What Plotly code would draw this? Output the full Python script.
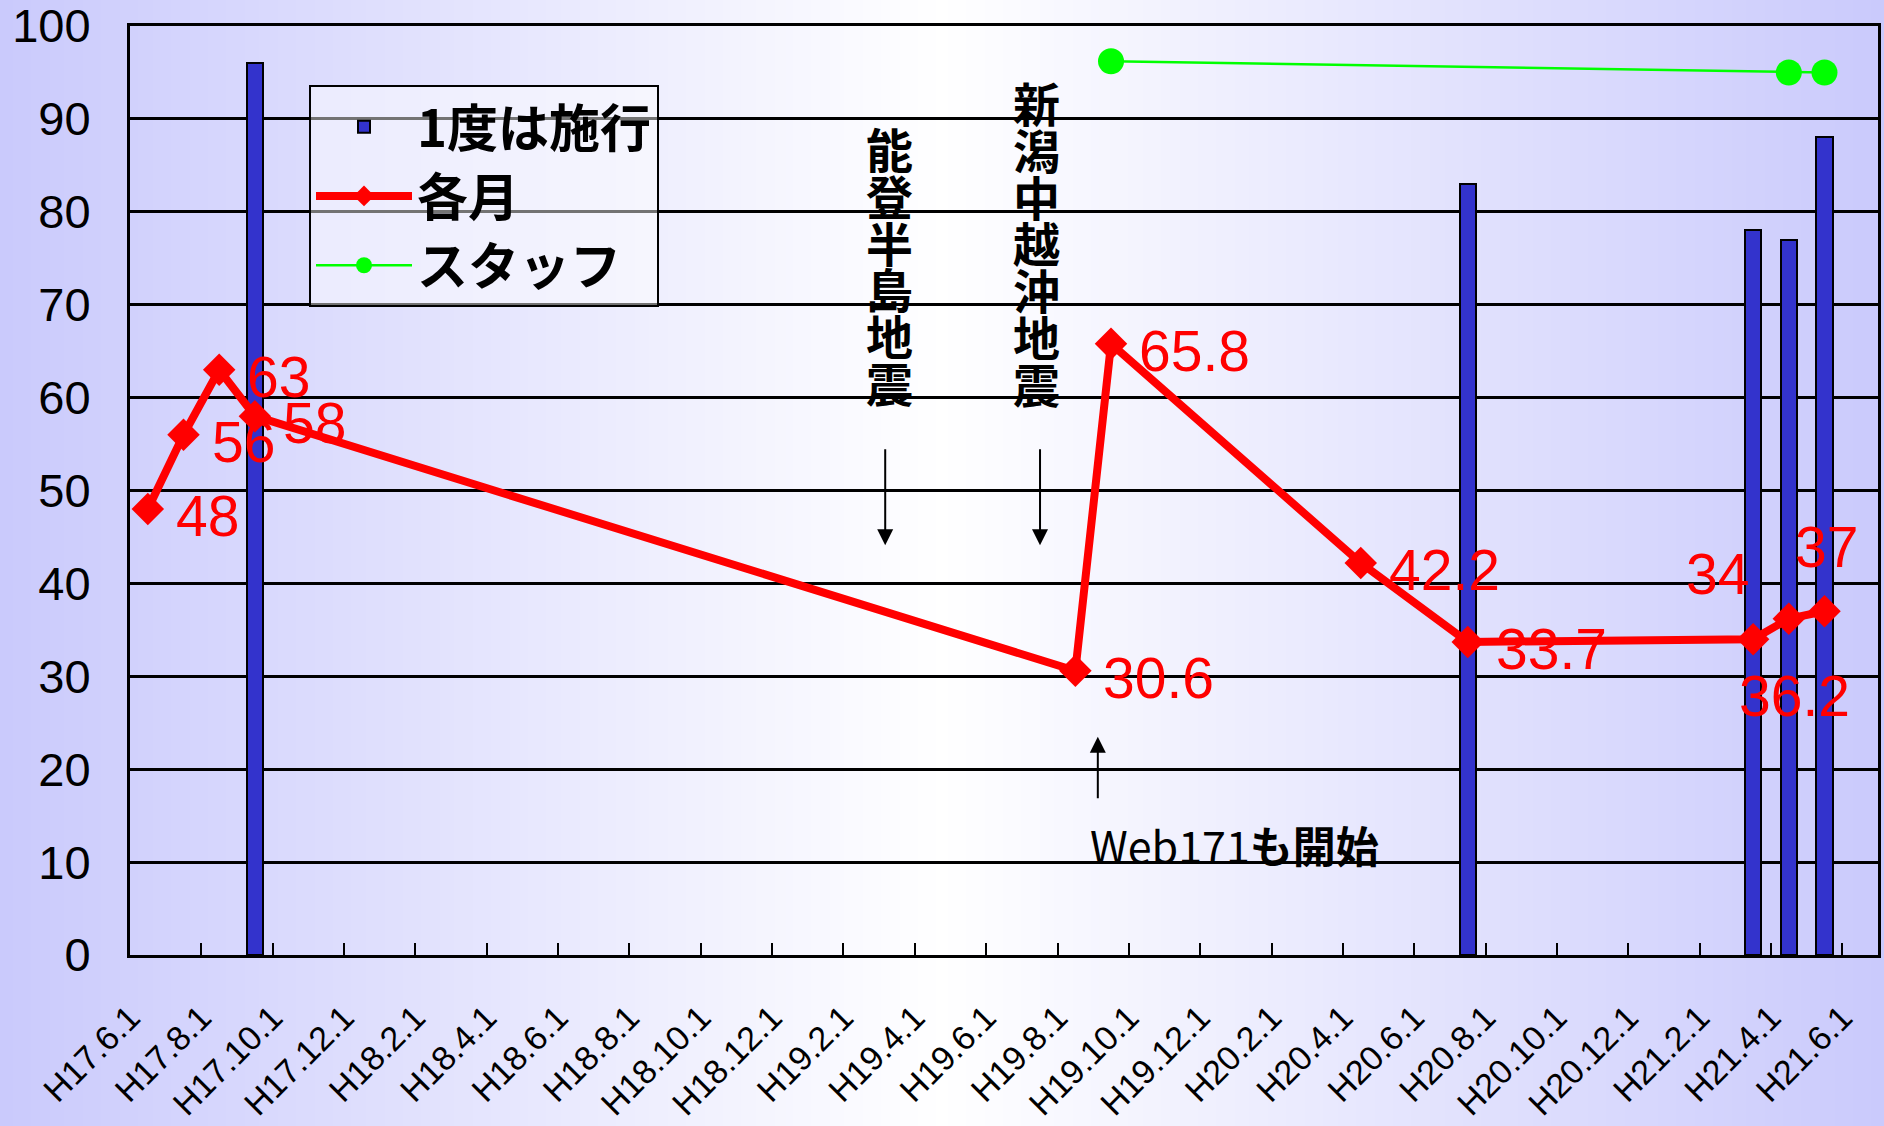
import base64
import struct
import zlib

import plotly.graph_objects as go

# ---------------- data ----------------
months = [
    "H17.6.1", "H17.7.1", "H17.8.1", "H17.9.1", "H17.10.1", "H17.11.1", "H17.12.1",
    "H18.1.1", "H18.2.1", "H18.3.1", "H18.4.1", "H18.5.1", "H18.6.1",
    "H18.7.1", "H18.8.1", "H18.9.1", "H18.10.1", "H18.11.1", "H18.12.1",
    "H19.1.1", "H19.2.1", "H19.3.1", "H19.4.1", "H19.5.1", "H19.6.1",
    "H19.7.1", "H19.8.1", "H19.9.1", "H19.10.1", "H19.11.1", "H19.12.1",
    "H20.1.1", "H20.2.1", "H20.3.1", "H20.4.1", "H20.5.1", "H20.6.1",
    "H20.7.1", "H20.8.1", "H20.9.1", "H20.10.1", "H20.11.1", "H20.12.1",
    "H21.1.1", "H21.2.1", "H21.3.1", "H21.4.1", "H21.5.1", "H21.6.1",
]
tick_labels = [
    "H17.6.1", "H17.8.1", "H17.10.1", "H17.12.1", "H18.2.1", "H18.4.1", "H18.6.1",
    "H18.8.1", "H18.10.1", "H18.12.1", "H19.2.1", "H19.4.1", "H19.6.1", "H19.8.1",
    "H19.10.1", "H19.12.1", "H20.2.1", "H20.4.1", "H20.6.1", "H20.8.1", "H20.10.1",
    "H20.12.1", "H21.2.1", "H21.4.1", "H21.6.1",
]
y_ticks = [0, 10, 20, 30, 40, 50, 60, 70, 80, 90, 100]

bar_name = "1度は施行"
bar_months = ["H17.9.1", "H20.7.1", "H21.3.1", "H21.4.1", "H21.5.1"]
bar_values = [96, 83, 78, 77, 88]

monthly_name = "各月"
monthly_months = ["H17.6.1", "H17.7.1", "H17.8.1", "H17.9.1", "H19.8.1", "H19.9.1",
                  "H20.4.1", "H20.7.1", "H21.3.1", "H21.4.1", "H21.5.1"]
monthly_values = [48, 56, 63, 58, 30.6, 65.8, 42.2, 33.7, 34, 36.2, 37]

staff_name = "スタッフ"
staff_months = ["H19.9.1", "H21.4.1", "H21.5.1"]
staff_values = [96.2, 95.0, 95.0]

quake_texts = ["能登半島地震", "新潟中越沖地震"]
web_text = "Web171<b>も開始</b>"

# ---------------- styles ----------------
W, H = 1884, 1126
ML, MR, MT, MB = 130, 6, 26, 171
LATIN = "Liberation Sans, Arial, sans-serif"
CJK = "Noto Sans CJK JP, Liberation Sans, sans-serif"

# label placement for each monthly point: (xanchor, xshift, yshift)
label_place = [("left", 26, -7)] * 8 + [("right", -2, 65), ("center", 6, -77), ("center", 2, 64)]

# vertical quake text columns: (x position, y of column middle)
quake_cols = [(20.78, 74.3), (24.9, 76.8)]
# arrows: (x, tail y, head y)
arrow_defs = [(20.67, 54.6, 44.1), (25.01, 54.6, 44.1), (26.63, 16.7, 23.5)]
web_pos = (26.35, 12.0)


def idx(labels):
    return [months.index(m) for m in labels]


def vertical(text):
    # stacked characters; base font sets line pitch, span sets glyph size
    return "<br>".join(f'<span style="font-size:47px">{ch}</span>' for ch in text)


# ---------------- background gradient image ----------------
def gradient_png(width=512):
    edge = (202, 202, 252)
    row = bytearray()
    for i in range(width):
        t = abs(i / (width - 1) - 0.5) * 2  # 0 at center, 1 at edges
        for c in edge:
            row.append(int(round(255 + (c - 255) * t)))
    raw = b"".join(b"\x00" + bytes(row) for _ in range(2))

    def chunk(tag, data):
        c = struct.pack(">I", len(data)) + tag + data
        return c + struct.pack(">I", zlib.crc32(tag + data) & 0xFFFFFFFF)

    png = b"\x89PNG\r\n\x1a\n"
    png += chunk(b"IHDR", struct.pack(">IIBBBBB", width, 2, 8, 2, 0, 0, 0))
    png += chunk(b"IDAT", zlib.compress(raw))
    png += chunk(b"IEND", b"")
    return "data:image/png;base64," + base64.b64encode(png).decode()


pw, ph = W - ML - MR, H - MT - MB

fig = go.Figure()

fig.add_trace(go.Bar(
    x=idx(bar_months), y=bar_values, name=bar_name, width=0.46,
    marker=dict(color="#3333CC", line=dict(color="black", width=2)),
    legendgroup="a",
))
fig.add_trace(go.Scatter(
    x=idx(monthly_months), y=monthly_values, name=monthly_name, mode="lines+markers",
    line=dict(color="#FF0000", width=8),
    marker=dict(symbol="diamond", size=25, color="#FF0000"),
    legendgroup="b",
))
fig.add_trace(go.Scatter(
    x=idx(staff_months), y=staff_values, name=staff_name, mode="lines+markers",
    line=dict(color="#00FF00", width=2.5),
    marker=dict(symbol="circle", size=26, color="#00FF00"),
    legendgroup="c",
))

annotations = []
# data labels of monthly series
for xv, yv, (xa, xs, ys) in zip(idx(monthly_months), monthly_values, label_place):
    annotations.append(dict(
        x=xv, y=yv, text=f"{yv:g}", showarrow=False, xanchor=xa, yanchor="middle",
        xshift=xs, yshift=ys, font=dict(family=LATIN, size=57, color="#FF0000"),
    ))
# vertical quake texts
for txt, (cx, cy) in zip(quake_texts, quake_cols):
    annotations.append(dict(
        x=cx, y=cy, text=vertical(txt), showarrow=False,
        xanchor="center", yanchor="middle",
        font=dict(family=CJK, size=36, color="black", weight="bold"),
    ))
# arrows
for ax_, tail, head in arrow_defs:
    annotations.append(dict(
        x=ax_, y=head, ax=ax_, ay=tail, axref="x", ayref="y", text="",
        showarrow=True, arrowhead=2, arrowsize=1.6, arrowwidth=2, arrowcolor="black",
        standoff=0, startstandoff=0,
    ))
annotations.append(dict(
    x=web_pos[0], y=web_pos[1], text=web_text, showarrow=False, xanchor="left",
    yanchor="middle", font=dict(family=CJK, size=43, color="black"),
))

fig.update_layout(
    width=W, height=H,
    margin=dict(l=ML, r=MR, t=MT, b=MB, autoexpand=False),
    paper_bgcolor="#FFFFFF", plot_bgcolor="rgba(0,0,0,0)",
    showlegend=True,
    legend=dict(
        x=(309 - ML) / pw, y=1 - (85 - MT) / ph, xanchor="left", yanchor="top",
        bgcolor="rgba(255,255,255,0.45)", bordercolor="black", borderwidth=2,
        font=dict(family=CJK, size=51, color="black", weight="bold"),
        itemwidth=96, tracegroupgap=21, traceorder="normal",
    ),
    bargap=0,
    annotations=annotations,
    images=[dict(
        source=gradient_png(), xref="paper", yref="paper",
        x=-ML / pw, y=1 + MT / ph, sizex=W / pw, sizey=H / ph,
        xanchor="left", yanchor="top", sizing="stretch", layer="below",
    )],
    xaxis=dict(
        range=[-0.5, len(months) - 0.5], tickmode="array",
        tickvals=[months.index(t) - 0.5 for t in tick_labels], ticktext=tick_labels,
        tickangle=-45, ticks="inside", ticklen=12, tickwidth=2, tickcolor="black",
        showgrid=False, zeroline=False, showline=True, linecolor="black", linewidth=3,
        mirror=True, tickfont=dict(family=LATIN, size=34, color="black"),
        ticklabelstandoff=26, automargin=False, ticklabeloverflow="allow",
    ),
    yaxis=dict(
        range=[0, 100], tickmode="array", tickvals=y_ticks,
        showgrid=True, gridcolor="black", gridwidth=2.5, zeroline=False,
        showline=True, linecolor="black", linewidth=3, mirror=True, ticks="",
        tickfont=dict(family=LATIN, size=47, color="black"),
        ticklabelstandoff=27, automargin=False, ticklabeloverflow="allow",
    ),
)

fig.write_html(
    "out.html",
    config={"displayModeBar": False},
    post_script="document.body.style.margin='0';document.body.style.padding='0';"
                "document.body.style.overflow='hidden';",
)
